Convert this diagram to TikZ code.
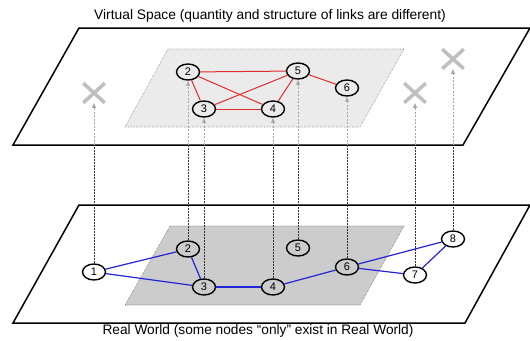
\documentclass[tikz,border=0pt]{standalone}
\usepackage{fontspec}
\setmainfont{Liberation Sans}
\usetikzlibrary{shapes.geometric,shapes.misc,arrows.meta}

\definecolor{vred}{RGB}{222,45,45}
\definecolor{rblue}{RGB}{35,35,215}
\tikzset{
  nd/.style={draw=black, line width=1.4pt, ellipse, minimum width=23pt, minimum height=16pt, inner sep=0pt, font=\fontsize{11}{11}\selectfont},
  redge/.style={draw=vred, line width=1pt},
  bedge/.style={draw=rblue, line width=1.2pt},
  dk/.style={draw=black!80, dash pattern=on 2pt off 1pt, line width=0.9pt},
  lt/.style={draw=black!35, dash pattern=on 2pt off 1.5pt, line width=0.9pt, -{Latex[length=5pt,width=4.5pt]}},
  xmark/.style={draw=black!25, cross out, line width=3.5pt, minimum width=18pt, minimum height=16pt, inner sep=0pt}
}

\begin{document}
\begin{tikzpicture}[x=1pt,y=-1pt]
\useasboundingbox (0,0) rectangle (530,340);
% planes
\draw[line width=1.5pt] (79,28)--(530,28)--(463,145)--(13,145)--cycle;
\fill[black!8] (168,49)--(404,49)--(360,127)--(125,127)--cycle;
\draw[black!45, densely dotted, line width=0.6pt] (168,49)--(404,49)--(360,127)--(125,127)--cycle;
\draw[line width=1.5pt] (79,205)--(530,205)--(465,323)--(13,323)--cycle;
\fill[black!20] (170,226)--(404,226)--(360,305)--(125,305)--cycle;
\draw[black!55, densely dotted, line width=0.6pt] (170,226)--(404,226)--(360,305)--(125,305)--cycle;
\node[font=\fontsize{13.8}{15}\selectfont] (vtitle) at (270,16) {Virtual Space (quantity and structure of links are different)};
\node[font=\fontsize{13.7}{15}\selectfont] (rtitle) at (258,331) {Real World (some nodes “only” exist in Real World)};
% virtual nodes
\foreach \n/\x/\y in {2/188/72,3/204/109,4/273/109,5/298/71,6/347/88}{\node[nd] (v\n) at (\x,\y) {\n};}
\foreach \n/\x/\y in {1/94/93,7/415/93,8/453/59}{\node[xmark] (x\n) at (\x,\y) {};}
\foreach \a/\b in {2/5,2/3,2/4,3/5,3/4,4/5,5/6}{\draw[redge] (v\a)--(v\b);}
% real nodes
\foreach \n/\x/\y in {1/94/272,2/188/249,3/204/287,4/273/287,5/298/248,6/347/267,7/415/275,8/453/239}{\node[nd] (r\n) at (\x,\y) {\n};}
\foreach \a/\b in {1/2,1/3,2/3,3/4,4/6,6/8,6/7,7/8}{\draw[bedge] (r\a)--(r\b);}
% mapping
\foreach \n/\t in {1/x1,2/v2,3/v3,4/v4,5/v5,6/v6,7/x7,8/x8}{
  \coordinate (b\n) at (r\n.north |- 0,145);
  \draw[dk] (r\n.north)--(b\n);
  \draw[lt] (b\n)--(\t.south);
}
\end{tikzpicture}
\end{document}
